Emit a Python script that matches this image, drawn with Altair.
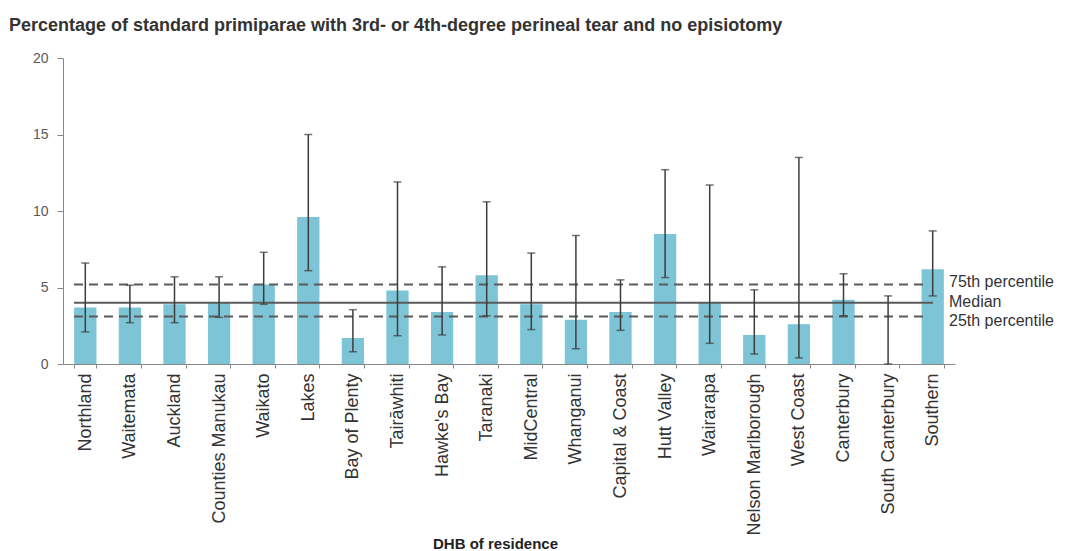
import altair as alt
import pandas as pd

categories = ["Northland", "Waitemata", "Auckland", "Counties Manukau", "Waikato", "Lakes",
              "Bay of Plenty", "Tairāwhiti", "Hawke's Bay", "Taranaki", "MidCentral", "Whanganui",
              "Capital & Coast", "Hutt Valley", "Wairarapa", "Nelson Marlborough", "West Coast",
              "Canterbury", "South Canterbury", "Southern"]
rate = [3.7, 3.7, 3.9, 4.0, 5.2, 9.6, 1.7, 4.8, 3.4, 5.8, 3.9, 2.9, 3.4, 8.5, 4.0, 1.9, 2.6, 4.2, 0.0, 6.2]
lower = [2.1, 2.7, 2.7, 3.05, 3.9, 6.1, 0.8, 1.85, 1.9, 3.15, 2.25, 1.0, 2.2, 5.65, 1.35, 0.65, 0.4, 3.15, 0.0, 4.45]
upper = [6.6, 5.15, 5.7, 5.7, 7.3, 15.0, 3.55, 11.9, 6.35, 10.6, 7.25, 8.4, 5.5, 12.7, 11.7, 4.85, 13.5, 5.9, 4.45, 8.7]

ref_names = ["75th percentile", "Median", "25th percentile"]
ref_values = [5.2, 4.0, 3.1]

df = pd.DataFrame({"DHB": categories, "rate": rate, "lower": lower, "upper": upper})
ref = pd.DataFrame({"name": ref_names, "value": ref_values})

W, H = 892, 306
FONT = "Liberation Sans"

xenc = alt.X("DHB:N", sort=categories,
             scale=alt.Scale(paddingInner=0.5, paddingOuter=0.25),
             axis=alt.Axis(title="DHB of residence", labelAngle=270, labelFontSize=18,
                           labelColor="#333333", labelFont=FONT, labelPadding=5,
                           tickBand="extent", tickSize=4, tickColor="#888888",
                           domainColor="#888888", titleFont=FONT, titleFontSize=15,
                           titleFontWeight="bold", titleColor="#222222",
                           titleX=432, titleY=179, titleBaseline="middle"))
yscale = alt.Scale(domain=[0, 20])
yaxis = alt.Axis(title=None, values=[0, 5, 10, 15, 20], grid=False, labelFontSize=14,
                 labelColor="#595959", labelFont=FONT, tickSize=6, labelPadding=9,
                 tickColor="#888888", domainColor="#888888")

base = alt.Chart(df)
bars = base.mark_bar(color="#7dc5d6").encode(
    x=xenc, y=alt.Y("rate:Q", scale=yscale, axis=yaxis))
err = base.mark_rule(color="#3c3c3c", strokeWidth=1.5).encode(
    x=alt.X("DHB:N", sort=categories), y="lower:Q", y2="upper:Q")
cap_hi = base.mark_tick(color="#3c3c3c", thickness=1.5, size=8, orient="horizontal").encode(
    x=alt.X("DHB:N", sort=categories), y="upper:Q")
cap_lo = base.mark_tick(color="#3c3c3c", thickness=1.5, size=8, orient="horizontal").encode(
    x=alt.X("DHB:N", sort=categories), y="lower:Q")

refc = alt.Chart(ref)
median_line = refc.transform_filter(alt.datum.name == "Median").mark_rule(
    color="#5a5a5a", strokeWidth=2).encode(
    y="value:Q", x=alt.value(11), x2=alt.value(870))
pct_lines = refc.transform_filter(alt.datum.name != "Median").mark_rule(
    color="#5a5a5a", strokeWidth=2, strokeDash=[9, 6]).encode(
    y="value:Q", x=alt.value(11), x2=alt.value(860))

def label(name, dy):
    return refc.transform_filter(alt.datum.name == name).mark_text(
        align="left", baseline="middle", fontSize=16, font=FONT, color="#333333", dy=dy
    ).encode(y="value:Q", x=alt.value(886), text="name:N")

chart = alt.layer(
    bars, pct_lines, median_line, err, cap_hi, cap_lo,
    label("75th percentile", -2), label("Median", -1), label("25th percentile", 4)
).properties(
    width=W, height=H,
    autosize=alt.AutoSizeParams(type="none"),
    padding={"left": 55, "top": 50, "right": 109, "bottom": 187},
    title=alt.TitleParams(
        "Percentage of standard primiparae with 3rd- or 4th-degree perineal tear and no episiotomy",
        anchor="start", frame="group", dx=-54, offset=16, fontSize=18, font=FONT,
        fontWeight="bold", color="#333333")
).configure_view(stroke=None)

chart.save("out.html", embed_options={"renderer": "svg", "actions": False})
